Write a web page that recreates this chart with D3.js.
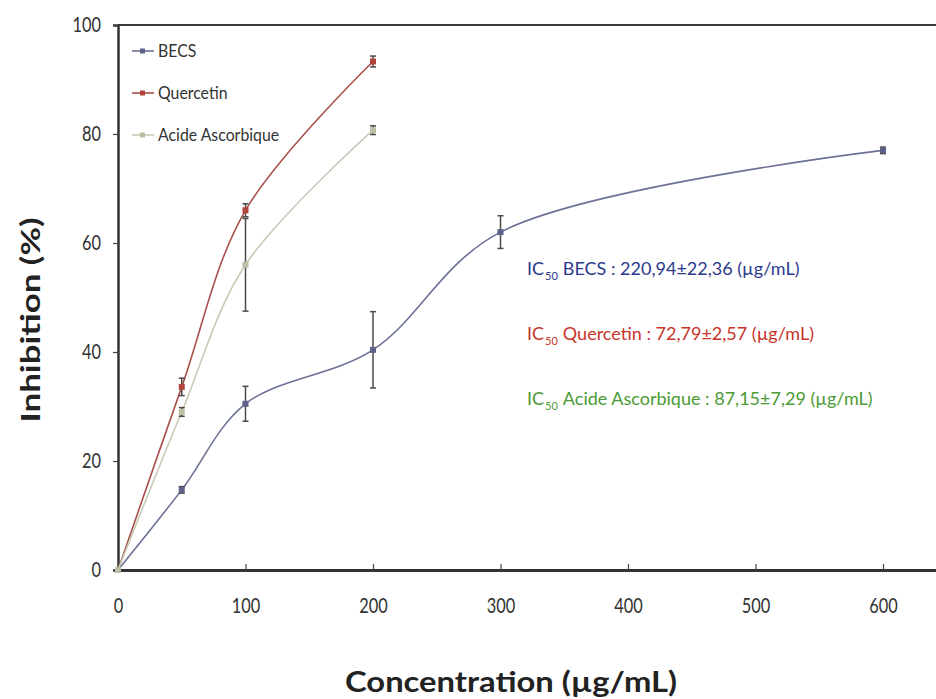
<!DOCTYPE html>
<html>
<head>
<meta charset="utf-8">
<script src="https://cdn.jsdelivr.net/npm/d3@7/dist/d3.min.js"></script>
<style>
  html, body { margin: 0; padding: 0; background: #fff; }
  svg text { font-family: Lato, "Open Sans", "DejaVu Sans", sans-serif; }
</style>
</head>
<body>
<svg id="chart" width="936" height="699"></svg>
<script>
// Concentrations (µg/mL)
const becsConc = [0, 50, 100, 200, 300, 600];
const refConc = [0, 50, 100, 200];

// Inhibition (%) and standard deviations
const becsValues = [0, 14.7, 30.5, 40.4, 62.0, 77.0];
const becsErr    = [0, 0.6, 3.2, 7.0, 3.0, 0.6];
const quercetinValues = [0, 33.6, 66.0, 93.3];
const quercetinErr    = [0, 1.6, 1.2, 1.0];
const ascorbicValues = [0, 29.0, 56.0, 80.7];
const ascorbicErr    = [0, 0.8, 8.5, 0.8];

const seriesNames = ["BECS", "Quercetin", "Acide Ascorbique"];
const xTicks = [0, 100, 200, 300, 400, 500, 600];
const yTicks = [0, 20, 40, 60, 80, 100];

const ic50Labels = [
  { name: "BECS", value: "220,94±22,36" },
  { name: "Quercetin", value: "72,79±2,57" },
  { name: "Acide Ascorbique", value: "87,15±7,29" }
];

const colors = { "BECS": "#6c7196", "Quercetin": "#a8504c", "Acide Ascorbique": "#c6cbb6" };
const markerColors = { "BECS": "#5d6288", "Quercetin": "#b2423c", "Acide Ascorbique": "#b9c0a4" };
const icColors = ["#2c3a8e", "#c8332a", "#4b9a36"];

const series = [
  { name: "BECS", x: becsConc, y: becsValues, e: becsErr },
  { name: "Quercetin", x: refConc, y: quercetinValues, e: quercetinErr },
  { name: "Acide Ascorbique", x: refConc, y: ascorbicValues, e: ascorbicErr }
];

const svg = d3.select("#chart");
const x = d3.scaleLinear().domain([0, 650]).range([118, 946.75]);
const y = d3.scaleLinear().domain([0, 100]).range([570, 25]);

// squeeze glyphs horizontally to a narrow look
function narrow(sel, factor) {
  sel.each(function () {
    const len = this.getComputedTextLength();
    d3.select(this).attr("textLength", len * factor).attr("lengthAdjust", "spacingAndGlyphs");
  });
}

// Frame: top border
svg.append("line")
  .attr("x1", x(0)).attr("x2", 936).attr("y1", y(100)).attr("y2", y(100))
  .attr("stroke", "#3a3a3a").attr("stroke-width", 2);

// Y axis
const yAxis = svg.append("g")
  .attr("transform", `translate(${x(0)},0)`)
  .call(d3.axisLeft(y).tickValues(yTicks).tickSize(5).tickPadding(12));
yAxis.select(".domain").attr("stroke", "#333").attr("stroke-width", 2.5);
yAxis.selectAll(".tick line").attr("stroke", "#444").attr("stroke-width", 1.2);
yAxis.selectAll(".tick text").attr("font-size", 21).attr("fill", "#333")
  .call(narrow, 0.78);

// X axis, ticks pointing inwards
const xAxis = svg.append("g")
  .attr("transform", `translate(0,${y(0)})`)
  .call(d3.axisBottom(x).tickValues(xTicks).tickSizeInner(-6).tickSizeOuter(0).tickPadding(28));
xAxis.select(".domain").attr("stroke", "#333").attr("stroke-width", 3);
xAxis.selectAll(".tick line").attr("stroke", "#444").attr("stroke-width", 1.2);
xAxis.selectAll(".tick text").attr("font-size", 21).attr("fill", "#333")
  .call(narrow, 0.78);

// Axis titles
svg.append("text")
  .attr("x", 511).attr("y", 692)
  .attr("text-anchor", "middle").attr("font-size", 28).attr("font-weight", "bold").attr("fill", "#222")
  .text("Concentration (µg/mL)")
  .attr("textLength", 332).attr("lengthAdjust", "spacingAndGlyphs");

svg.append("text")
  .attr("transform", "translate(40,320) rotate(-90)")
  .attr("text-anchor", "middle").attr("font-size", 26).attr("font-weight", "bold").attr("fill", "#222")
  .text("Inhibition (%)")
  .attr("textLength", 205).attr("lengthAdjust", "spacingAndGlyphs");

// Curves (smoothed), error bars and markers
const line = d3.line()
  .x(d => x(d[0])).y(d => y(d[1]))
  .curve(d3.curveCatmullRom.alpha(0.5));

series.forEach(s => {
  const pts = s.x.map((c, i) => [c, s.y[i], s.e[i]]);
  svg.append("path")
    .datum(pts)
    .attr("d", line)
    .attr("fill", "none")
    .attr("stroke", colors[s.name])
    .attr("stroke-width", 1.6);

  const g = svg.append("g");
  pts.filter(p => p[2] > 0).forEach(p => {
    g.append("line")
      .attr("x1", x(p[0])).attr("x2", x(p[0]))
      .attr("y1", y(p[1] - p[2])).attr("y2", y(p[1] + p[2]))
      .attr("stroke", "#4a4a4a").attr("stroke-width", 1.5);
    [p[1] - p[2], p[1] + p[2]].forEach(v => {
      g.append("line")
        .attr("x1", x(p[0]) - 3).attr("x2", x(p[0]) + 3)
        .attr("y1", y(v)).attr("y2", y(v))
        .attr("stroke", "#4a4a4a").attr("stroke-width", 1.5);
    });
  });

  svg.append("g").selectAll("rect")
    .data(pts)
    .join("rect")
    .attr("x", d => x(d[0]) - 3).attr("y", d => y(d[1]) - 3)
    .attr("width", 6).attr("height", 6)
    .attr("fill", markerColors[s.name]);
});

// Legend
const legend = svg.append("g");
seriesNames.forEach((name, i) => {
  const ly = 51 + i * 42;
  legend.append("line")
    .attr("x1", 132).attr("x2", 154).attr("y1", ly).attr("y2", ly)
    .attr("stroke", colors[name]).attr("stroke-width", 1.6);
  legend.append("rect")
    .attr("x", 140).attr("y", ly - 2.5).attr("width", 5).attr("height", 5)
    .attr("fill", markerColors[name]);
  legend.append("text")
    .attr("x", 158).attr("y", ly + 6)
    .attr("font-size", 18).attr("fill", "#333")
    .text(name)
    .call(narrow, 0.88);
});

// IC50 annotations
ic50Labels.forEach((d, i) => {
  const t = svg.append("text")
    .attr("x", 527).attr("y", 275 + i * 65)
    .attr("font-size", 18).attr("fill", icColors[i]);
  t.append("tspan").text("IC");
  t.append("tspan").attr("font-size", 11).attr("dx", 1).attr("dy", 5).text("50");
  t.append("tspan").attr("dx", 5).attr("dy", -5).text(`${d.name} : ${d.value} (µg/mL)`);
});
</script>
</body>
</html>
